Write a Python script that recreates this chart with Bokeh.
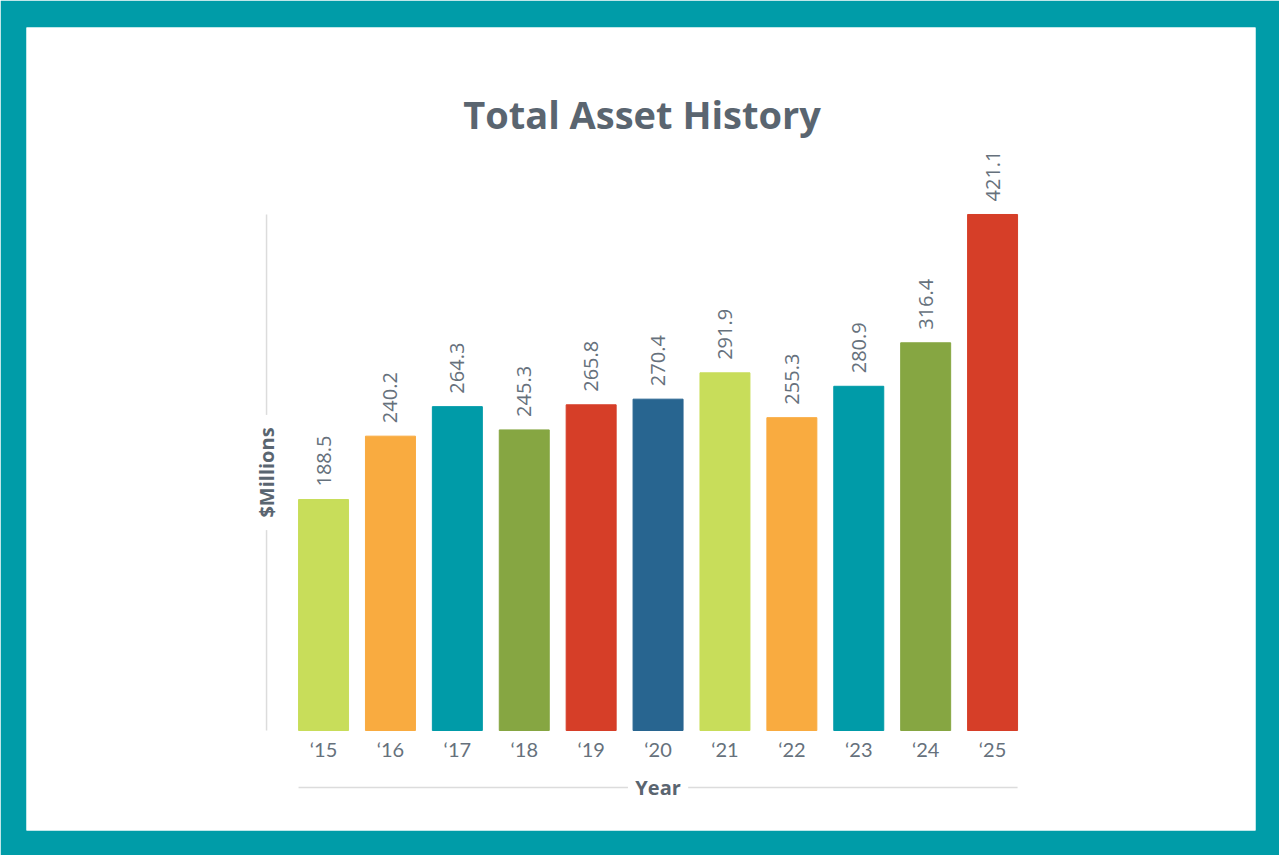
from bokeh.plotting import figure
from bokeh.models import Range1d, ColumnDataSource
from bokeh.core.properties import value
from bokeh.embed import file_html
from bokeh.resources import INLINE

# ---- data ----
years = ["‘15", "‘16", "‘17", "‘18", "‘19", "‘20", "‘21", "‘22", "‘23", "‘24", "‘25"]
assets = [188.5, 240.2, 264.3, 245.3, 265.8, 270.4, 291.9, 255.3, 280.9, 316.4, 421.1]
bar_colors = ["#c8dd5a", "#f9ab40", "#009ba8", "#86a642", "#d63e28", "#286590",
              "#c8dd5a", "#f9ab40", "#009ba8", "#86a642", "#d63e28"]
title_text = "Total Asset History"
y_label = "$Millions"
x_label = "Year"

TEAL = "#009ca8"
TEXT = "#5a6570"
LABEL = "#66717c"
LINE = "#dcdcdc"
FONT = "Open Sans"
TICKFONT = "Lato"

idx = list(range(len(years)))
src = ColumnDataSource(dict(x=idx, top=assets, color=bar_colors, year=years,
                            lab=[f"{v:.1f}" for v in assets]))

p = figure(width=1279, height=855, output_backend="svg", toolbar_location=None,
           x_range=Range1d(-4.44, 13.93), y_range=Range1d(-81.6, 573.7),
           min_border_left=26, min_border_right=24, min_border_top=27, min_border_bottom=25,
           border_fill_color=TEAL, background_fill_color="white", outline_line_color=None)
p.xaxis.visible = False
p.yaxis.visible = False
p.xgrid.visible = False
p.ygrid.visible = False

p.vbar(x="x", top="top", bottom=0, width=0.747, color="color", source=src)

# value labels (rotated)
p.text(x="x", y="top", text="lab", source=src, angle=1.5708, x_offset=0, y_offset=-13,
       text_align="left", text_baseline="middle", text_font=value(FONT),
       text_font_size="20px", text_color=LABEL)

# year tick labels
p.text(x="x", y=0, text="year", source=src, y_offset=18, text_align="center",
       text_baseline="middle", text_font=value(TICKFONT), text_font_size="20px", text_color=LABEL)

ymax = max(assets)
ymid = ymax / 2
xl = -0.852
# y axis line with gap for label
p.segment(x0=[xl, xl], y0=[0, ymid + 47], x1=[xl, xl], y1=[ymid - 47, ymax],
          line_color=LINE, line_width=1.5)
p.text(x=[xl], y=[ymid], text=[y_label], angle=1.5708, text_align="center",
       text_baseline="middle", text_font=value(FONT), text_font_style="bold",
       text_font_size="20px", text_color=TEXT)

# x axis line with gap for label
xmid = (idx[0] + idx[-1]) / 2
x0 = idx[0] - 0.747 / 2
x1 = idx[-1] + 0.747 / 2
yl = -46.5
p.segment(x0=[x0, xmid + 0.45], y0=[yl, yl], x1=[xmid - 0.45, x1], y1=[yl, yl],
          line_color=LINE, line_width=1.5)
p.text(x=[xmid], y=[yl], text=[x_label], text_align="center", text_baseline="middle",
       text_font=value(FONT), text_font_style="bold", text_font_size="20px", text_color=TEXT)

# title
p.text(x=[xmid - 0.24], y=[503], text=[title_text], text_align="center",
       text_baseline="middle", text_font=value(FONT), text_font_style="bold",
       text_font_size="38px", text_color=TEXT)

open("out.html", "w").write(file_html(p, INLINE))
